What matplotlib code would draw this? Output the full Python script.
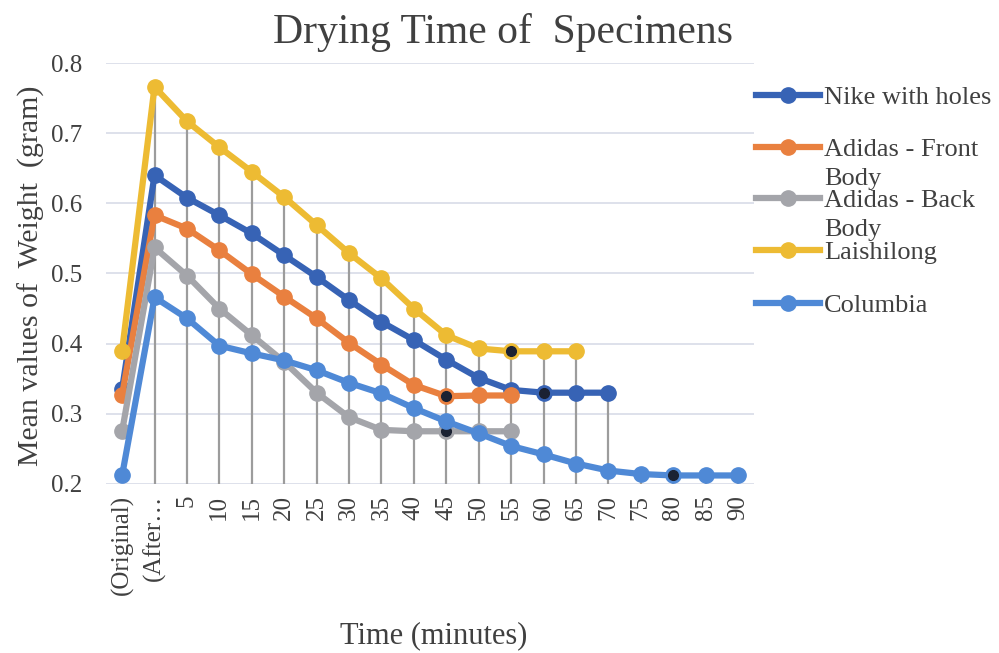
import numpy as np
import matplotlib.pyplot as plt
from matplotlib.lines import Line2D

plt.rcParams['font.family'] = ['Liberation Serif', 'DejaVu Serif']

# Categories on the x axis
categories = ["(Original)", "(After\u2026", "5", "10", "15", "20", "25", "30", "35", "40",
              "45", "50", "55", "60", "65", "70", "75", "80", "85", "90"]

# Mean weight (gram) per specimen
nike = [0.335, 0.640, 0.608, 0.583, 0.557, 0.526, 0.495, 0.462, 0.431, 0.405,
        0.377, 0.351, 0.334, 0.330, 0.330, 0.330]
adidas_front = [0.327, 0.583, 0.564, 0.533, 0.499, 0.467, 0.436, 0.401, 0.370, 0.341,
                0.325, 0.326, 0.326]
adidas_back = [0.275, 0.537, 0.497, 0.450, 0.412, 0.374, 0.330, 0.295, 0.277, 0.275,
               0.275, 0.275, 0.275]
laishilong = [0.390, 0.766, 0.717, 0.680, 0.645, 0.609, 0.569, 0.529, 0.493, 0.450,
              0.412, 0.393, 0.389, 0.389, 0.389]
columbia = [0.212, 0.466, 0.436, 0.397, 0.386, 0.376, 0.362, 0.344, 0.329, 0.308,
            0.289, 0.272, 0.254, 0.242, 0.229, 0.219, 0.214, 0.212, 0.212, 0.212]

names = ["Nike with holes", "Adidas - Front\nBody", "Adidas - Back\nBody", "Laishilong", "Columbia"]
series = [nike, adidas_front, adidas_back, laishilong, columbia]
colors = ["#3763B5", "#E9803F", "#A4A5AA", "#EDBB33", "#4F89D6"]
# points that show up dark in the picture (category index per series)
dark_points = [13, 10, 10, 12, 17]

n = len(categories)
x = np.arange(n)
padded = [np.array(s + [np.nan] * (n - len(s))) for s in series]

fig = plt.figure(figsize=(9.99, 6.53), dpi=100)
ax = fig.add_axes([0.106, 0.259, 0.649, 0.6445])

ax.set_ylim(0.2, 0.8)
ax.set_xlim(-0.5, n - 0.5)
ax.set_yticks(np.arange(0.2, 0.81, 0.1))
ax.set_yticklabels([f"{v:.1f}" for v in np.arange(0.2, 0.81, 0.1)])
ax.set_xticks(x)
ax.set_xticklabels(categories, rotation=90, va='top')
ax.tick_params(axis='y', length=0, pad=17, labelsize=18, labelcolor='#404040')
ax.tick_params(axis='x', length=0, pad=8, labelsize=18, labelcolor='#404040')
for sp in ax.spines.values():
    sp.set_visible(False)
ax.yaxis.grid(True, color='#D8DCE8', lw=1.2)
ax.set_axisbelow(True)

# drop lines
top = np.nanmax(np.vstack(padded), axis=0)
ax.vlines(x[1:], 0.2, top[1:], color='#9C9C9C', lw=1.6, zorder=1)

for i, (vals, c) in enumerate(zip(padded, colors)):
    ax.plot(x, vals, color=c, lw=4.5, marker='o', ms=11, mec=c, mfc=c, zorder=2 + i)
    d = dark_points[i]
    ax.plot(x[d], vals[d], 'o', color='#1B2233', ms=7, zorder=2 + i)

fig.text(0.504, 1 - 32 / 653, "Drying Time of  Specimens", ha='center', va='center',
         fontsize=30, color='#404040')
ax.set_ylabel("Mean values of  Weight  (gram)", fontsize=21.5, color='#404040')
ax.yaxis.set_label_coords(-0.094, 0.494)
ax.set_xlabel("Time (minutes)", fontsize=22, color='#404040', va='center')
ax.xaxis.set_label_coords(0.506, -0.361)

# legend on the right, Excel style with wrapped labels
legend_y = [95, 147, 198, 250, 303]
for name, c, yy in zip(names, colors, legend_y):
    yf = 1 - yy / 653
    fig.add_artist(Line2D([756 / 999, 820 / 999], [yf, yf], color=c, lw=4.5))
    fig.add_artist(Line2D([788 / 999], [yf], color=c, marker='o', ms=11))
    for j, line in enumerate(name.split("\n")):
        fig.text(824 / 999, 1 - (yy + 9 + 29 * j) / 653, line, ha='left', va='baseline',
                 fontsize=19, color='#404040')

fig.savefig("out.png", dpi=100)
